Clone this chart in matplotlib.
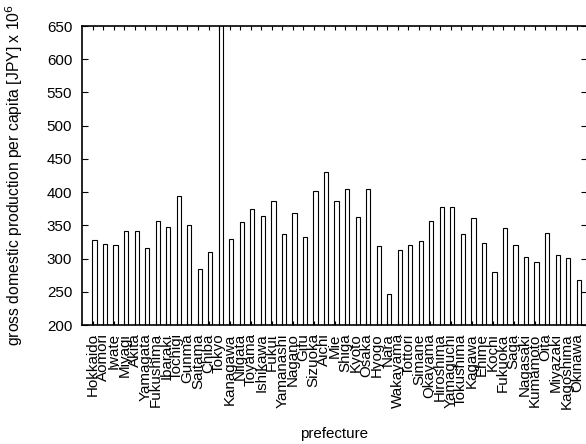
import matplotlib
matplotlib.use("Agg")
import matplotlib.pyplot as plt
import matplotlib.transforms as mtransforms

prefectures = ["Hokkaido", "Aomori", "Iwate", "Miyagi", "Akita", "Yamagata", "Fukushima",
               "Ibaraki", "Tochigi", "Gunma", "Saitama", "Chiba", "Tokyo", "Kanagawa",
               "Niigata", "Toyama", "Ishikawa", "Fukui", "Yamanashi", "Nagano", "Gifu",
               "Sizuoka", "Aichi", "Mie", "Shiga", "Kyoto", "Osaka", "Hyogo", "Nara",
               "Wakayama", "Tottori", "Simane", "Okayama", "Hiroshima", "Yamaguchi",
               "Tokushima", "Kagawa", "Ehime", "Kochi", "Fukuoka", "Saga", "Nagasaki",
               "Kumamoto", "Oita", "Miyazaki", "Kagoshima", "Okinawa"]
gdp = [328, 322, 320, 341.5, 341, 316, 356.5,
       347.5, 393.5, 350.5, 284.5, 309.5, 720, 329,
       355.5, 375, 363.5, 386.5, 337, 368.5, 332.5,
       401.5, 430.5, 386, 404.5, 362.5, 404.5, 319, 246,
       312.5, 321, 326.5, 356.5, 378, 377.5,
       336.5, 360.5, 324, 280, 346.5, 321, 303,
       295.5, 338.5, 306, 301, 267.5]
positions = list(range(1, len(prefectures) + 1))

plt.rcParams['font.family'] = ['Liberation Sans', 'DejaVu Sans']
plt.rcParams['font.size'] = 10.9

fig = plt.figure(figsize=(5.86, 4.44), dpi=100)
ax = fig.add_axes([82.2 / 586, 119 / 444, 505.2 / 586, 299 / 444])

ax.bar([p - 0.03 for p in positions], gdp, width=0.4, align='edge',
       facecolor='white', edgecolor='black', linewidth=0.8)

ax.set_xlim(0, 48)
ax.set_ylim(200, 650)
ax.set_yticks(range(200, 651, 50))
ax.set_xticks(positions)
ax.set_xticklabels(prefectures, rotation=90, ha='center', va='top')
offset = mtransforms.ScaledTranslation(1.3 / 100, 0, fig.dpi_scale_trans)
for lab in ax.get_xticklabels():
    lab.set_transform(lab.get_transform() + offset)

ax.tick_params(axis='y', direction='in', left=True, right=True, length=4.2, width=0.8, pad=7.2)
ax.tick_params(axis='x', direction='in', top=True, bottom=True, length=3.2, width=0.8, pad=6)
for s in ax.spines.values():
    s.set_linewidth(1.2)

fig.text(14 / 586, 1 - 175.5 / 444, "gross domestic production per capita [JPY] x 10$^6$",
         rotation=90, ha='center', va='center', fontsize=11.3)
fig.text(334 / 586, 1 - 434 / 444, "prefecture", ha='center', va='center')

fig.savefig("out.png", dpi=100)
